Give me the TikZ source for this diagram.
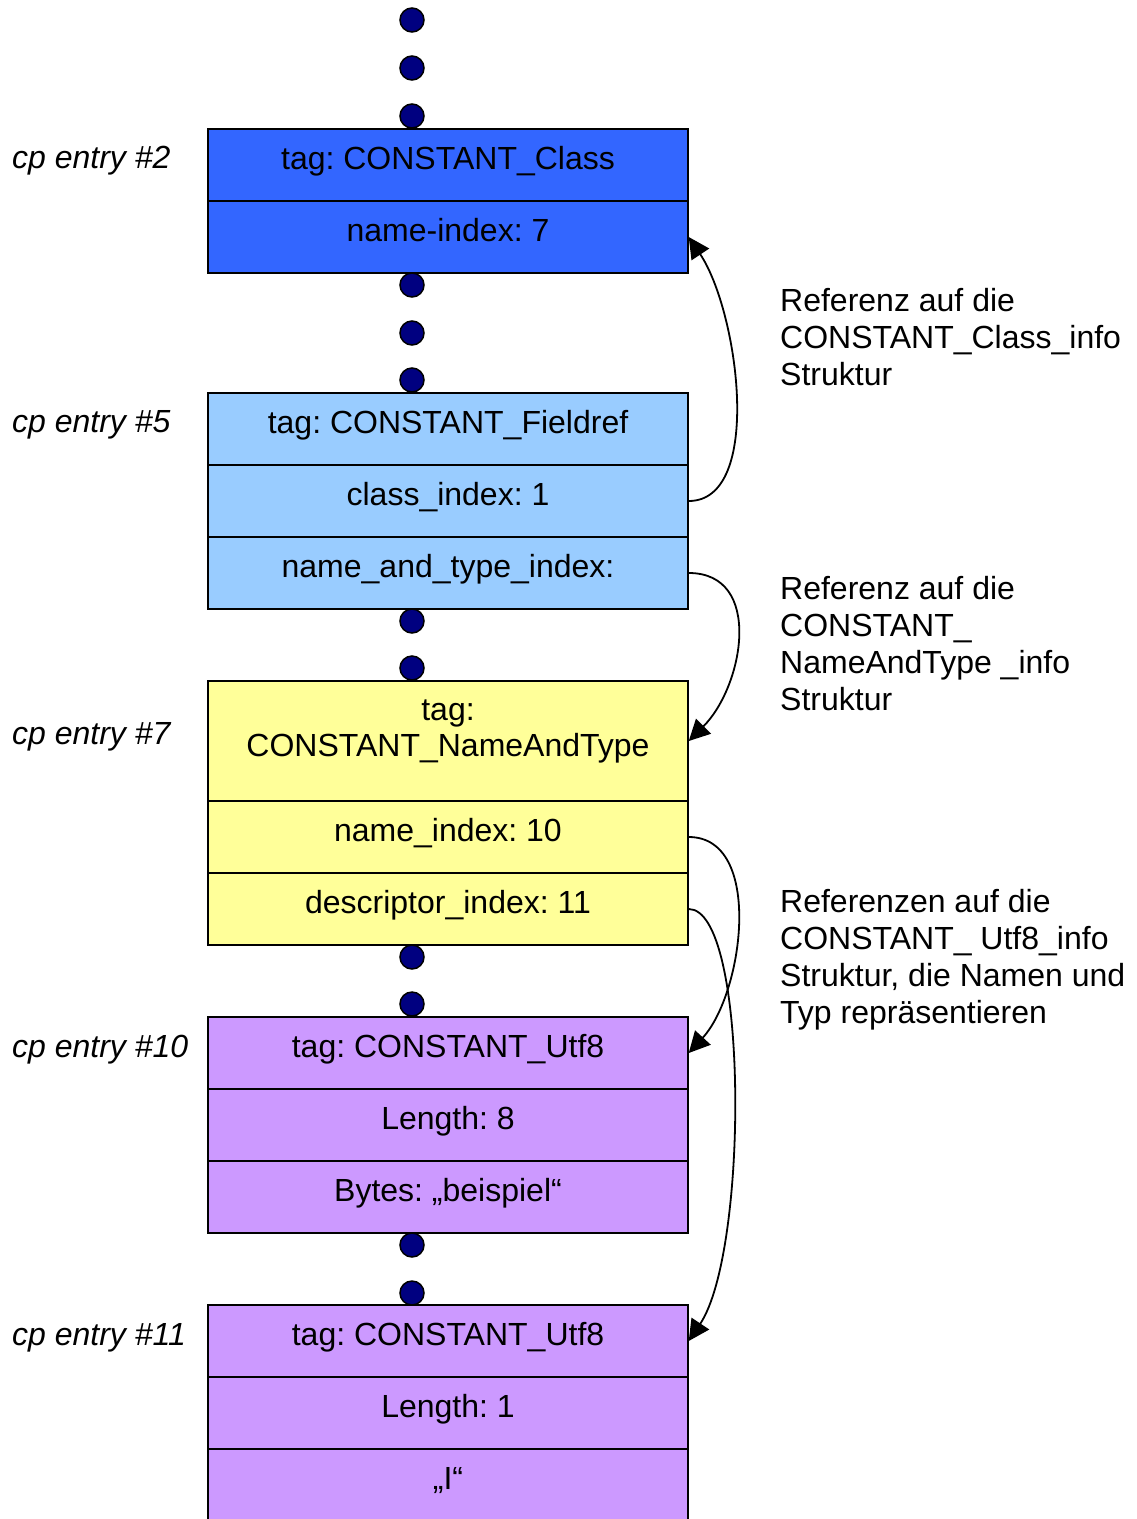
\documentclass[tikz,border=0pt]{standalone}
\usepackage{fontspec}
\setmainfont{Liberation Sans}
\frenchspacing
\usetikzlibrary{arrows.meta,calc}
\definecolor{cblue}{HTML}{3366FF}
\definecolor{clight}{HTML}{99CCFF}
\definecolor{cyel}{HTML}{FFFF99}
\definecolor{cviol}{HTML}{CC99FF}
\definecolor{cnavy}{HTML}{000080}
\begin{document}
\begin{tikzpicture}[x=1pt,y=-1pt,
  row/.style={draw=black, line width=1.5pt, minimum width=480pt, minimum height=72pt, inner sep=0pt, align=center, text height=21pt, text depth=13pt, font=\fontsize{32}{36}\selectfont\frenchspacing},
  txt/.style={inner sep=0pt, align=center, font=\fontsize{32}{36}\selectfont\frenchspacing},
  dot/.style={circle, draw=black, line width=1.5pt, fill=cnavy, minimum size=24pt, inner sep=0pt},
  lab/.style={anchor=west, inner sep=0pt, font=\fontsize{32}{36}\selectfont\itshape},
  note/.style={anchor=north west, inner sep=0pt, align=left, font=\fontsize{32}{37}\selectfont\frenchspacing},
  ref/.style={line width=1.8pt, -{Triangle[length=21pt,width=21pt]}}]
\useasboundingbox (0,0) rectangle (1136,1519);
% entry #2
\node[row, fill=cblue] (a1) at (448,165) {tag: CONSTANT\_Class};
\node[row, fill=cblue] (a2) at (448,237) {name-index: 7};
% entry #5
\node[row, fill=clight] (b1) at (448,429) {tag: CONSTANT\_Fieldref};
\node[row, fill=clight] (b2) at (448,501) {class\_index: 1};
\node[row, fill=clight] (b3) at (448,573) {name\_and\_type\_index:};
% entry #7
\node[row, fill=cyel, minimum height=120pt] (c1) at (448,741) {};
\node[txt] (c1t) at (448,731) {tag:\\CONSTANT\_NameAndType};
\node[row, fill=cyel] (c2) at (448,837) {name\_index: 10};
\node[row, fill=cyel] (c3) at (448,909) {descriptor\_index: 11};
% entry #10
\node[row, fill=cviol] (e1) at (448,1053) {tag: CONSTANT\_Utf8};
\node[row, fill=cviol] (e2) at (448,1125) {Length: 8};
\node[row, fill=cviol] (e3) at (448,1197) {Bytes: „beispiel“};
% entry #11
\node[row, fill=cviol] (f1) at (448,1341) {tag: CONSTANT\_Utf8};
\node[row, fill=cviol] (f2) at (448,1413) {Length: 1};
\node[row, fill=cviol] (f3) at (448,1485) {„I“};
% dots
\foreach \n/\y in {d1/20,d2/68,d3/116,d4/285,d5/333,d6/380,d7/621,d8/668,d9/957,d10/1004,d11/1245,d12/1293}
  \node[dot] (\n) at (412,\y) {};
% left labels
\node[lab] (l1) at (12,161) {cp entry \#2};
\node[lab] (l2) at (12,425) {cp entry \#5};
\node[lab] (l3) at (12,737) {cp entry \#7};
\node[lab] (l4) at (12,1050) {cp entry \#10};
\node[lab] (l5) at (12,1338) {cp entry \#11};
% notes
\node[note] (n1) at (780,288) {Referenz auf die\\CONSTANT\_Class\_info\\Struktur};
\node[note] (n2) at (780,576) {Referenz auf die\\CONSTANT\_\\NameAndType \_info\\Struktur};
\node[note] (n3) at (780,889) {Referenzen auf die\\CONSTANT\_ Utf8\_info\\Struktur, die Namen und\\Typ repräsentieren};
% reference arrows
\draw[ref] (b2.east) .. controls ($(b2.east)+(75,0)$) and ($(a2.east)+(50,75)$) .. (a2.east);
\draw[ref] (b3.east) .. controls ($(b3.east)+(75,0)$) and ($(c1.east)+(55,-55)$) .. (c1.east);
\draw[ref] (c2.east) .. controls ($(c2.east)+(75,0)$) and ($(e1.east)+(55,-60)$) .. (e1.east);
\draw[ref] (c3.east) .. controls ($(c3.east)+(60,0)$) and ($(f1.east)+(60,-90)$) .. (f1.east);
\end{tikzpicture}
\end{document}
